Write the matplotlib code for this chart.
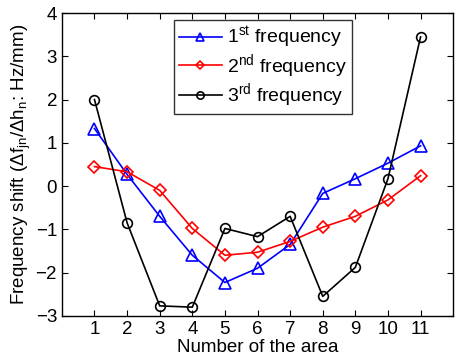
import matplotlib
matplotlib.use("Agg")
import matplotlib.pyplot as plt

plt.rcParams['font.family'] = ['Liberation Sans', 'DejaVu Sans']
plt.rcParams['mathtext.fontset'] = 'custom'
plt.rcParams['mathtext.rm'] = 'Liberation Sans'
plt.rcParams['mathtext.it'] = 'Liberation Sans'
plt.rcParams['mathtext.bf'] = 'Liberation Sans:bold'

areas = [1, 2, 3, 4, 5, 6, 7, 8, 9, 10, 11]
freq1 = [1.33, 0.27, -0.70, -1.60, -2.23, -1.90, -1.35, -0.17, 0.17, 0.53, 0.93]
freq2 = [0.45, 0.33, -0.10, -0.98, -1.60, -1.53, -1.28, -0.95, -0.70, -0.32, 0.24]
freq3 = [2.00, -0.85, -2.77, -2.80, -0.98, -1.17, -0.70, -2.55, -1.88, 0.17, 3.45]
labels = ['1$^{st}$ frequency', '2$^{nd}$ frequency', '3$^{rd}$ frequency']

fig = plt.figure(figsize=(4.55, 3.63), dpi=100)
ax = fig.add_axes([0.136, 0.130, 0.86, 0.834])

ax.plot(areas, freq1, color='blue', marker='^', mfc='none', mec='blue', ms=8, mew=1.2, lw=1.2, label=labels[0])
ax.plot(areas, freq2, color='red', marker='D', mfc='none', mec='red', ms=6, mew=1.2, lw=1.2, label=labels[1])
ax.plot(areas, freq3, color='black', marker='o', mfc='none', mec='black', ms=7, mew=1.2, lw=1.2, label=labels[2])

ax.set_xlim(0, 12)
ax.set_ylim(-3, 4)
ax.set_xticks(areas)
ax.set_yticks(range(-3, 5))
ax.tick_params(direction='in', top=True, right=True, labelsize=13.5, length=4, width=0.8)
for s in ax.spines.values():
    s.set_linewidth(1.0)

ax.set_xlabel('Number of the area', fontsize=13.5, labelpad=1)
ax.set_ylabel('Frequency shift ($\\Delta$f$_{jn}$/$\\Delta$h$_{n}$: Hz/mm)', fontsize=13.5, labelpad=2)

leg = ax.legend(loc='upper center', bbox_to_anchor=(0.514, 0.99), fontsize=14, frameon=True,
                fancybox=False, edgecolor='black', borderpad=0.25, labelspacing=0.08,
                handlelength=2.2, handletextpad=0.3, borderaxespad=0.2, markerscale=0.75)
leg.get_frame().set_linewidth(1.0)

fig.savefig('out.png', dpi=100)
